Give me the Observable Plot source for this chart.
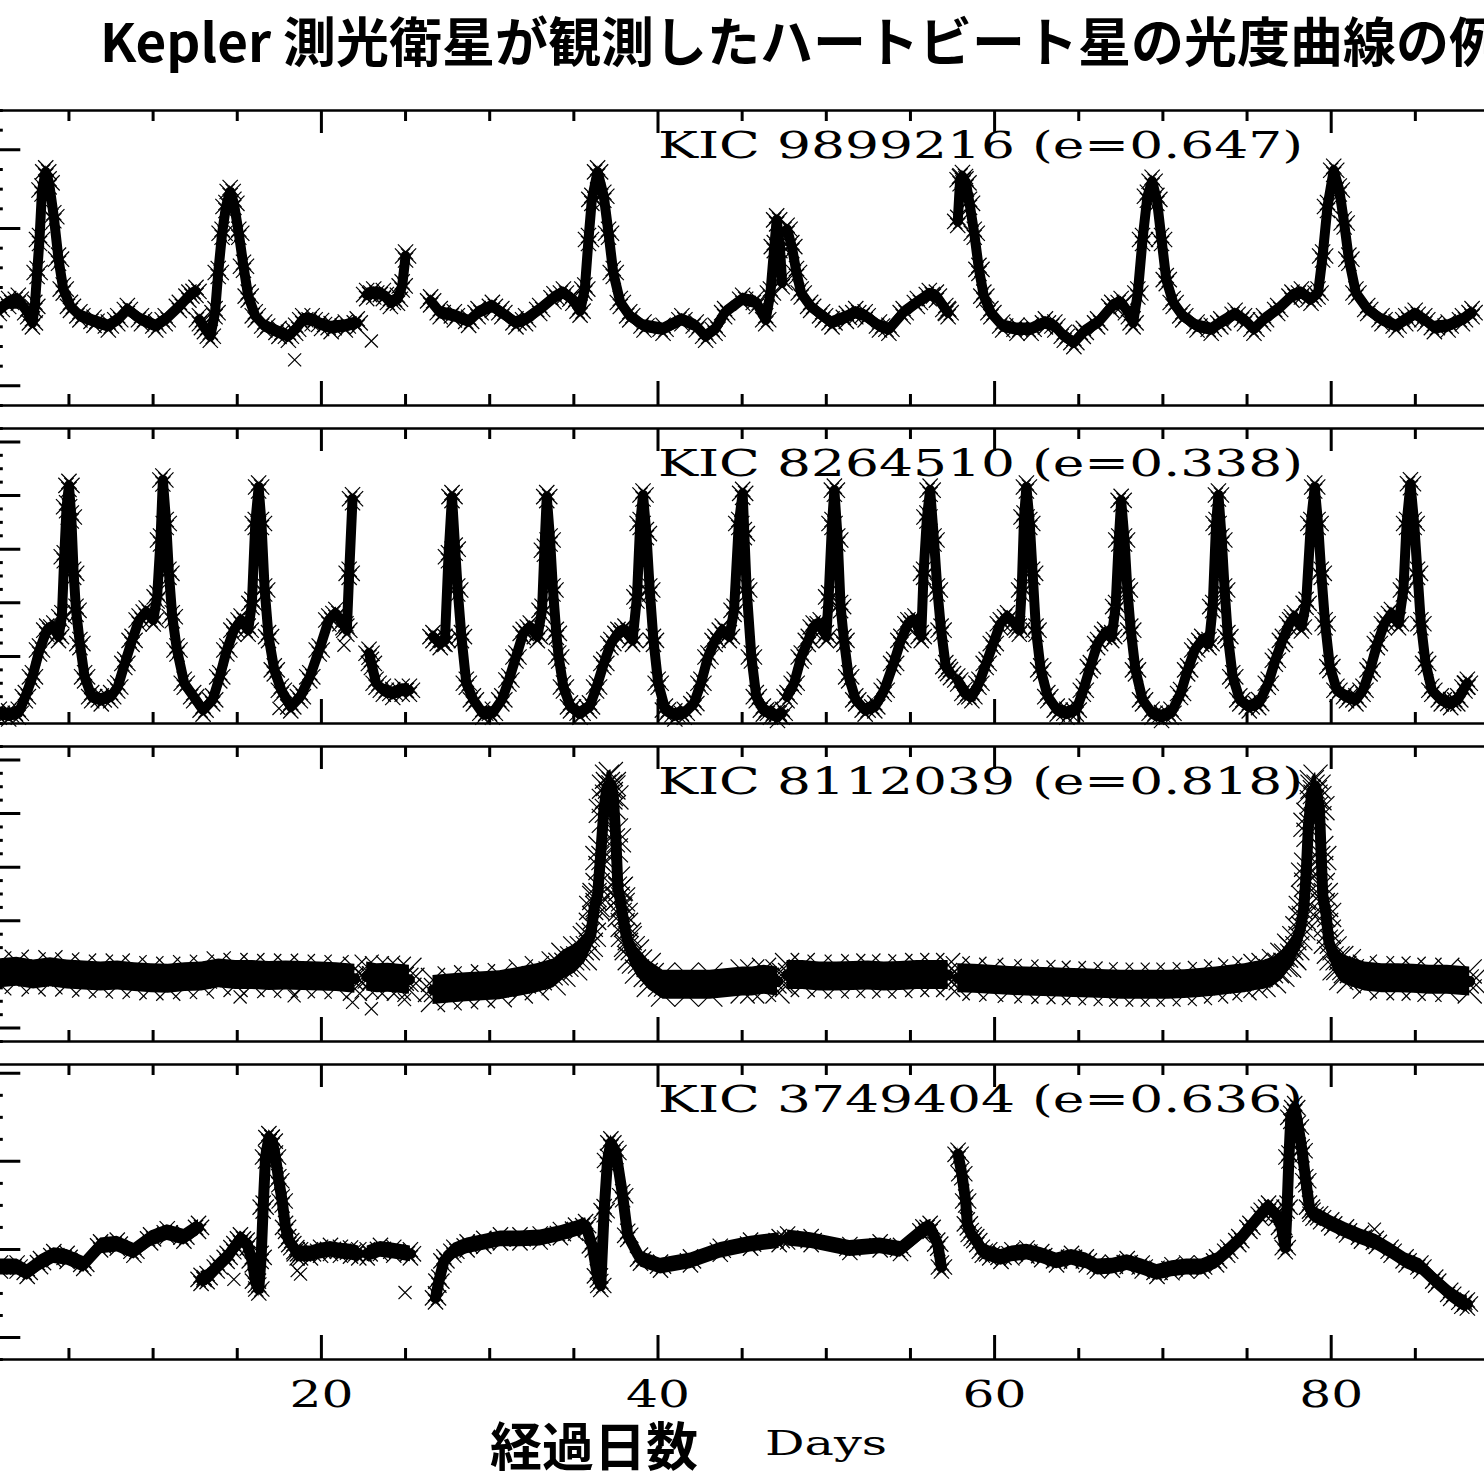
<!DOCTYPE html>
<html><head><meta charset="utf-8">
<script src="https://cdn.jsdelivr.net/npm/d3@7"></script>
<script src="https://cdn.jsdelivr.net/npm/@observablehq/plot@0.6"></script>
<style>
html,body{margin:0;padding:0;background:#fff;overflow:hidden}
#root{position:relative;width:1484px;height:1484px;overflow:hidden;background:#fff}
#title{position:absolute;left:100px;top:13px;font-family:"Noto Sans CJK JP";font-weight:700;font-size:53px;line-height:1;white-space:nowrap;color:#000}
#xlab{position:absolute;left:490px;top:1420px;font-family:"Noto Sans CJK JP";font-weight:700;font-size:52px;line-height:48px;white-space:nowrap;color:#000}
#xlabEn{position:absolute;left:765px;top:1426px;font-family:"DejaVu Serif";font-size:34px;line-height:1;white-space:nowrap;color:#000;transform:scaleX(1.45);transform-origin:left top}
</style></head>
<body><div id="root"><div id="title">Kepler 測光衛星が観測したハートビート星の光度曲線の例</div></div>
<script>
// ---------- data (time in days, relative flux in arbitrary tick units) ----------
const kic9899216Days = [
 0.86,1.42,1.99,2.55,2.83,2.97,3.11,3.25,3.40,3.62,3.82,4.10,4.38,4.66,5.09,5.65,6.49,7.34,7.90,8.47,9.31,10.16,10.72,11.56,12.13,12.55, null,
 12.75,13.05,13.40,13.68,13.87,14.10,14.33,14.58,14.80,15.09,15.37,15.65,16.07,16.63,17.48,18.04,18.47,18.89,19.45,20.01,20.58,21.42,22.13, null,
 22.69,23.11,23.68,24.10,24.52,24.80,25.00, null,
 26.49,27.06,27.90,28.75,29.31,30.16,30.72,31.56,32.13,32.97,33.82,34.38,34.94,35.37,35.65,35.87,36.07,36.41,36.78,37.06,37.34,37.76,38.32,39.17,40.30,41.42,42.27,42.83,43.39,43.96,45.03,45.84,46.40,46.68,46.91,47.05,47.24,47.38, null,
 47.67,47.95,48.23,48.51,49.07,49.78,50.34,51.19,51.75,52.31,53.16,53.72,54.57,55.41,56.12,56.54,57.10,57.24, null,
 57.81,57.95,58.09,58.30,58.51,58.79,59.07,59.36,59.78,60.48,61.33,62.17,63.02,63.58,64.14,64.71,65.27,66.12,66.96,67.52,67.95,68.23,68.51,68.79,69.08,69.36,69.64,69.92,70.20,70.61,71.18,72.03,72.87,73.44,74.29,74.85,75.41,75.98,76.82,77.67,78.23,78.80,79.22,79.49,79.78,80.15,80.48,80.77,81.05,81.47,82.17,83.02,83.86,84.43,84.99,85.56,86.13,86.95,87.80,88.37
];
const kic9899216Flux = [
 0.97,1.06,1.10,0.93,0.80,1.01,1.44,1.86,2.49,2.72,2.58,2.15,1.61,1.23,1.01,0.89,0.82,0.76,0.84,0.97,0.84,0.76,0.84,1.01,1.14,1.20, null,
 0.84,0.74,0.63,0.93,1.44,1.94,2.28,2.47,2.32,1.94,1.52,1.14,0.89,0.76,0.68,0.63,0.72,0.84,0.84,0.78,0.74,0.76,0.80, null,
 1.16,1.18,1.16,1.06,1.10,1.27,1.65, null,
 1.08,0.93,0.89,0.82,0.93,1.01,0.93,0.80,0.84,0.97,1.12,1.18,1.10,0.95,1.23,1.86,2.37,2.72,2.41,1.94,1.44,1.06,0.89,0.76,0.72,0.84,0.76,0.63,0.72,0.93,1.10,1.06,0.84,1.18,1.77,2.11,1.77,1.31, null,
 1.99,1.77,1.44,1.18,1.01,0.89,0.80,0.87,0.93,0.89,0.76,0.72,0.93,1.06,1.16,1.14,0.97,0.93, null,
 2.09,2.62,2.66,2.58,2.32,1.94,1.48,1.14,0.93,0.76,0.72,0.72,0.80,0.76,0.63,0.55,0.68,0.80,1.01,1.06,0.93,0.80,1.18,1.86,2.41,2.60,2.37,1.86,1.35,1.06,0.89,0.76,0.72,0.80,0.91,0.84,0.72,0.84,0.97,1.14,1.18,1.10,1.18,1.65,2.28,2.74,2.49,2.07,1.61,1.18,0.97,0.84,0.76,0.84,0.91,0.84,0.74,0.76,0.84,0.93
];
const kic9899216OutDays = [18.41, 22.97];
const kic9899216OutFlux = [0.33, 0.57];

const kic8264510Days = [
 0.86,1.42,1.99,2.41,2.83,3.25,3.68,4.10,4.38,4.58,4.72,4.86,5.00,5.14,5.28,5.42,5.65,5.93,6.35,6.92,7.48,7.90,8.32,8.75,9.17,9.59,10.01,10.24,10.44,10.58,10.78,10.94,11.14,11.42,11.85,12.41,12.97,13.54,13.96,14.38,14.80,15.23,15.65,15.87,16.07,16.27,16.44,16.63,16.86,17.20,17.62,18.18,18.75,19.31,19.87,20.44,20.86,21.28,21.51,21.65,21.85, null,
 22.83,22.97,23.25,23.68,24.24,24.80,25.23, null,
 26.63,27.06,27.34,27.55,27.76,27.95,28.10,28.32,28.61,29.03,29.59,30.16,30.72,31.14,31.56,31.99,32.41,32.83,33.11,33.25,33.39,33.59,33.76,33.96,34.10,34.38,34.80,35.37,35.93,36.35,36.78,37.20,37.62,38.04,38.49,38.75,38.94,39.11,39.31,39.51,39.73,40.01,40.44,41.00,41.56,42.13,42.55,42.97,43.39,43.82,44.24,44.52,44.80,45.03,45.13,45.27,45.55,45.84,46.26,46.68,47.10,47.38, null,
 47.67,48.09,48.51,48.93,49.22,49.64,50.00,50.14,50.34,50.48,50.68,50.85,51.05,51.33,51.75,52.31,52.88,53.44,54.00,54.43,54.85,55.27,55.64,55.78,55.98,56.17,56.40,56.60,56.82,57.10,57.38, null,
 57.81,58.23,58.65,59.07,59.50,59.92,60.34,60.77,61.19,61.47,61.61,61.75,61.89,62.09,62.26,62.46,62.74,63.16,63.72,64.29,64.85,65.27,65.69,66.12,66.54,66.96,67.19,67.38,67.52,67.72,67.89,68.09,68.37,68.79,69.36,69.92,70.48,71.05,71.47,71.89,72.31,72.74,72.96,73.16,73.30,73.50,73.67,73.86,74.15,74.57,75.13,75.69,76.26,76.68,77.10,77.53,77.81,78.23,78.51,78.79,79.02,79.22,79.41,79.64,79.92,80.34,80.91,81.47,81.89,82.31,82.74,83.16,83.58,84.00,84.29,84.48,84.71,84.93,85.13,85.33,85.61,85.98,86.54,87.10,87.52,87.95,88.09
];
const kic8264510Flux = [
 -0.06,-0.09,-0.06,0.25,0.62,1.12,1.49,1.55,1.37,1.74,2.86,3.79,4.19,3.60,2.55,1.86,1.24,0.62,0.25,0.19,0.25,0.43,0.87,1.30,1.68,1.83,1.68,2.11,3.17,4.29,3.48,2.55,1.74,1.12,0.50,0.25,0.00,0.19,0.62,1.12,1.49,1.68,1.49,1.99,3.48,4.16,3.48,2.24,1.37,0.75,0.37,0.06,0.25,0.62,1.12,1.68,1.80,1.61,1.49,2.55,3.94, null,
 1.06,0.87,0.50,0.37,0.31,0.37,0.37, null,
 1.37,1.24,1.30,2.86,3.98,3.00,2.24,1.37,0.50,0.19,-0.06,-0.06,0.19,0.56,0.99,1.43,1.55,1.37,1.86,2.98,3.98,3.17,2.24,1.43,0.99,0.43,0.06,-0.06,0.06,0.43,0.87,1.24,1.43,1.49,1.30,2.11,3.48,4.01,3.29,2.24,1.30,0.50,0.00,-0.09,-0.06,0.12,0.50,0.99,1.30,1.49,1.37,1.86,3.48,4.04,3.29,2.24,0.99,0.25,0.00,-0.06,-0.12,-0.06, null,
 0.25,0.50,0.99,1.30,1.55,1.61,1.37,2.11,3.48,4.10,3.17,1.93,1.30,0.62,0.19,0.00,0.06,0.37,0.87,1.30,1.61,1.68,1.37,2.55,3.60,4.10,3.17,2.24,1.49,0.81,0.68, null,
 0.56,0.31,0.25,0.50,0.87,1.24,1.61,1.74,1.61,1.49,2.24,3.60,4.16,3.48,2.55,1.49,0.75,0.25,0.00,-0.06,0.00,0.37,0.81,1.24,1.43,1.37,1.93,3.17,3.91,3.17,2.24,1.49,0.75,0.19,-0.06,-0.12,-0.06,0.31,0.75,1.12,1.30,1.24,1.93,3.48,4.01,3.17,2.24,1.37,0.62,0.19,0.06,0.12,0.50,0.93,1.30,1.61,1.74,1.55,1.99,3.48,4.16,3.48,2.55,1.61,0.81,0.37,0.25,0.19,0.37,0.75,1.24,1.61,1.80,1.61,2.24,3.48,4.22,3.48,2.55,1.61,0.87,0.37,0.19,0.12,0.19,0.43,0.50
];
const kic8264510OutDays = [21.34, 17.48];
const kic8264510OutFlux = [1.21, 0.03];

const kic8112039Days = [
 0.86,1.9,2.9,3.9,4.9,5.9,6.9,7.9,8.9,9.9,10.9,11.9,12.9,13.9,14.9,15.9,16.9,17.9,18.9,19.9,20.9,21.99, null,
 22.69,23.3,23.96,24.6,25.23, null,
 26.63,27.62,28.6,29.6,30.6,31.85,32.8,33.8,34.38,35.08,35.65,36.01,36.21,36.41,36.58,36.78,36.97,37.20,37.35,37.50,37.62,37.75,37.90,38.10,38.32,38.75,39.45,40.30,41.70,43.11,45.03,45.6,46.3,47.10, null,
 47.67,48.6,49.6,50.62,51.6,52.5,53.44,54.4,55.4,56.3,57.24, null,
 57.81,58.8,59.8,60.9,61.89,62.9,63.8,64.71,65.7,66.6,67.52,68.5,69.4,70.33,71.3,72.2,73.16,74.0,74.85,75.5,75.98,76.6,77.10,77.5,77.81,78.17,78.37,78.51,78.65,78.85,79.07,79.30,79.41,79.50,79.70,79.86,80.20,80.6,81.05,82.0,83.02,84.0,84.9,85.84,86.9,88.23
];
const kic8112039Flux = [
 1.02,1.05,1.00,1.04,1.00,0.98,0.96,0.98,0.95,0.93,0.92,0.95,0.96,1.02,0.99,0.99,0.97,0.98,0.97,0.96,0.95,0.92, null,
 0.96,0.93,0.94,0.92,0.90, null,
 0.71,0.74,0.76,0.78,0.80,0.87,0.93,1.02,1.18,1.30,1.49,1.74,2.24,2.48,3.17,4.05,4.50,4.55,4.30,3.50,2.60,2.40,2.11,1.74,1.49,1.24,0.99,0.81,0.81,0.81,0.87,0.87,0.90,0.87, null,
 0.99,0.99,0.96,0.96,0.97,0.98,0.96,0.97,0.99,0.99,0.99, null,
 0.93,0.92,0.90,0.88,0.87,0.86,0.85,0.84,0.83,0.82,0.81,0.81,0.81,0.81,0.82,0.84,0.87,0.90,0.93,0.97,0.99,1.06,1.18,1.35,1.49,1.86,2.24,2.86,3.79,4.40,4.50,4.10,3.17,2.48,2.11,1.61,1.30,1.12,1.06,0.96,0.93,0.93,0.92,0.90,0.90,0.87
];
const kic8112039OutDays = [15.17, 18.38, 21.85, 22.97, 24.94];
const kic8112039OutFlux = [0.58, 0.60, 0.48, 0.36, 0.53];

const kic3749404Days = [
 0.93,1.92,2.52,3.31,4.10,4.89,5.88,6.88,7.87,8.86,9.85,10.84,11.83,12.70, null,
 12.85,13.21,13.81,14.40,14.80,15.19,15.59,15.89,16.08,16.28,16.42,16.54,16.68,16.88,17.08,17.27,17.47,17.67,17.87,18.06,18.36,18.56,18.76,19.35,19.95,20.54,21.13,21.73,22.22, null,
 22.72,23.51,24.30,25.29, null,
 26.78,26.98,27.28,27.87,28.66,29.65,30.64,31.8,33.0,34.2,35.1,35.7,36.1,36.4,36.6,36.8,37.0,37.2,37.5,37.9,38.2,38.96,40.15,41.93,43.7,45.5,47.2, null,
 47.7,49.1,51.4,53.2,54.41,55.74,56.17,56.62,56.84, null,
 57.83,58.05,58.28,58.38,58.61,58.94,59.27,59.71,60.38,61.03,61.92,62.80,63.68,64.57,65.45,66.11,67.00,67.88,68.77,69.65,70.54,71.41,72.30,73.19,73.85,74.51,75.17,75.84,76.28,76.72,77.05,77.27,77.38,77.49,77.60,77.83,78.05,78.27,78.49,78.71,78.92,79.37,80.03,80.91,81.80,82.68,83.56,84.45,85.33,86.21,87.10,87.76,88.09
];
const kic3749404Flux = [
 0.80,0.80,0.74,0.85,0.93,0.91,0.83,1.04,1.06,0.98,1.12,1.19,1.14,1.25, null,
 0.66,0.68,0.80,0.91,1.02,1.12,1.06,0.87,0.64,0.55,0.91,1.48,2.05,2.27,2.23,2.05,1.78,1.55,1.25,1.10,1.02,0.95,0.95,0.95,0.98,1.00,0.98,0.97,0.95, null,
 0.95,1.00,0.98,0.95, null,
 0.45,0.64,0.87,0.98,1.04,1.08,1.12,1.12,1.13,1.18,1.23,1.27,1.04,0.70,0.59,1.44,2.01,2.21,2.10,1.61,1.16,0.89,0.81,0.87,0.99,1.06,1.10, null,
 1.13,1.10,1.01,1.04,1.00,1.21,1.25,1.06,0.80, null,
 2.08,1.86,1.55,1.29,1.17,1.10,0.98,0.95,0.91,0.95,0.97,0.93,0.87,0.91,0.87,0.80,0.81,0.85,0.80,0.74,0.78,0.80,0.80,0.87,0.98,1.10,1.25,1.40,1.48,1.40,1.25,1.02,1.48,2.05,2.50,2.61,2.39,2.12,1.78,1.48,1.40,1.36,1.29,1.21,1.14,1.08,0.98,0.87,0.80,0.64,0.49,0.40,0.38
];
const kic3749404OutDays = [14.80, 18.56, 18.76, 24.97, 82.57];
const kic3749404OutFlux = [0.66, 0.76, 0.72, 0.51, 1.23];

const panelLabels = ["KIC 9899216 (e=0.647)", "KIC 8264510 (e=0.338)", "KIC 8112039 (e=0.818)", "KIC 3749404 (e=0.636)"];
const xTickLabels = [0, 20, 40, 60, 80];

// ---------- layout ----------
const W = 1560, ML = 24.3, MR = 21.0, SHIFT = 40, PH = 295;
const FW = W - ML - MR;
const xMajor = xTickLabels;
const xMinor = d3.range(0, 91, 5).filter(d => d % 20 !== 0);

const panels = [
  {days: kic9899216Days, flux: kic9899216Flux, outDays: kic9899216OutDays, outFlux: kic9899216OutFlux, yDomain: [-0.25, 3.5], top: 110, label: panelLabels[0], lw: 10, noise: 0.08, r: 7, jit: 4},
  {days: kic8264510Days, flux: kic8264510Flux, outDays: kic8264510OutDays, outFlux: kic8264510OutFlux, yDomain: [-0.25, 5.25], top: 428, label: panelLabels[1], lw: 10, noise: 0.12, r: 7, jit: 4},
  {days: kic8112039Days, flux: kic8112039Flux, outDays: kic8112039OutDays, outFlux: kic8112039OutFlux, yDomain: [-0.25, 5.25], top: 746, label: panelLabels[2], lw: 11, noise: 0.27, r: 11, jit: 10},
  {days: kic3749404Days, flux: kic3749404Flux, outDays: kic3749404OutDays, outFlux: kic3749404OutFlux, yDomain: [-0.25, 3.1], top: 1064, label: panelLabels[3], lw: 11, noise: 0.09, r: 7, jit: 4, bottom: true}
];

const root = document.getElementById("root");

for (const cfg of panels) {
  const rows = cfg.days.map((t, i) => ({t, f: cfg.flux[i]}));
  const outs = cfg.outDays.map((t, i) => ({t, f: cfg.outFlux[i]}));
  const [ya, yb] = cfg.yDomain;
  const yMajor = d3.range(Math.ceil(ya), Math.floor(yb) + 1);
  const yMinor = d3.range(Math.ceil(ya / 0.25) * 0.25, yb + 1e-9, 0.25).filter(v => Math.abs(v - Math.round(v)) > 1e-6);
  const mb = cfg.bottom ? 70 : 0;
  const tk = {stroke: "black", strokeWidth: 3};
  const xs = {x: "t", y: "f", symbol: "times", r: cfg.r, stroke: "black", fill: "none", strokeWidth: 1.2};
  const marks = [
    Plot.areaY(rows, {x: "t", y1: d => d.f == null ? NaN : d.f - cfg.noise, y2: d => d.f == null ? NaN : d.f + cfg.noise, fill: "black"}),
    Plot.line(rows, {x: "t", y: "f", stroke: "black", strokeWidth: cfg.lw, strokeLinejoin: "round", strokeLinecap: "round"}),
    Plot.dot(rows, {...xs, dy: -cfg.jit}),
    Plot.dot(rows, {...xs, dy: cfg.jit}),
    Plot.dot(rows, {...xs, dx: 3}),
    Plot.dot(rows, {...xs, dx: -3}),
    Plot.dot(outs, {x: "t", y: "f", symbol: "times", r: 6, stroke: "black", fill: "none", strokeWidth: 1.2}),
    Plot.tickX(xMinor, {x: d => d, insetBottom: PH - 11, ...tk}),
    Plot.tickX(xMajor, {x: d => d, insetBottom: PH - 23, ...tk}),
    Plot.tickX(xMinor, {x: d => d, insetTop: PH - 11, ...tk}),
    Plot.tickX(xMajor, {x: d => d, insetTop: PH - 24, ...tk}),
    Plot.tickY(yMinor, {y: d => d, insetRight: FW - 18.5, ...tk}),
    Plot.tickY(yMajor, {y: d => d, insetRight: FW - 36, ...tk}),
    Plot.frame({stroke: "black", strokeWidth: 2.5}),
    Plot.text([{t: 40, label: cfg.label}], {x: "t", text: "label", frameAnchor: "top", textAnchor: "start", lineAnchor: "bottom", dy: 47, fontSize: 37, fontFamily: "DejaVu Serif", fill: "black"})
  ];
  if (cfg.bottom) {
    marks.push(Plot.text(xTickLabels, {x: d => d, text: d => String(d), frameAnchor: "bottom", textAnchor: "middle", lineAnchor: "bottom", dy: 47, fontSize: 37, fontFamily: "DejaVu Serif", fill: "black"}));
  }
  const svg = Plot.plot({
    width: W, height: PH + mb,
    marginLeft: ML, marginRight: MR, marginTop: 0, marginBottom: mb,
    x: {domain: [0, 90], axis: null},
    y: {domain: cfg.yDomain, axis: null},
    marks
  });
  svg.style.cssText = `position:absolute;left:${-SHIFT}px;top:${cfg.top}px;overflow:visible;max-width:none;background:transparent;`;
  svg.querySelectorAll("text").forEach(t => {
    const s = t.textContent;
    t.setAttribute("lengthAdjust", "spacingAndGlyphs");
    if (s.startsWith("KIC")) t.setAttribute("textLength", 645);
    else t.setAttribute("textLength", 32 * s.length);
  });
  root.appendChild(svg);
}

const xl = document.createElement("div"); xl.id = "xlab"; xl.textContent = "経過日数"; root.appendChild(xl);
const xe = document.createElement("div"); xe.id = "xlabEn"; xe.textContent = "Days"; root.appendChild(xe);
</script>
</body></html>
